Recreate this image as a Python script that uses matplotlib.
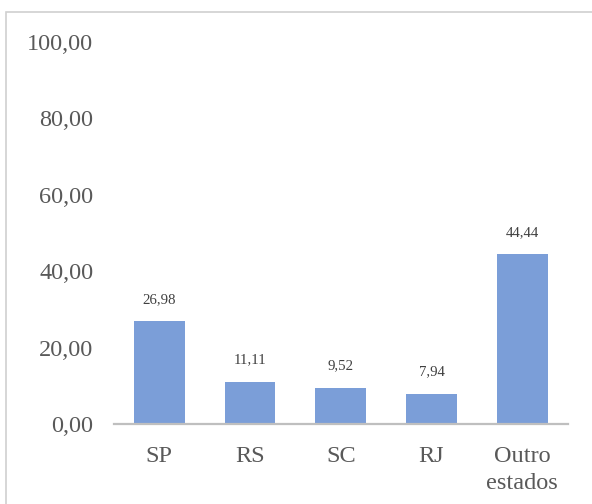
import matplotlib
matplotlib.use("Agg")
import matplotlib.pyplot as plt
from matplotlib.patches import Rectangle

categories = ["SP", "RS", "SC", "RJ", "Outro\nestados"]
values = [26.98, 11.11, 9.52, 7.94, 44.44]
value_labels = ["26,98", "11,11", "9,52", "7,94", "44,44"]
yticks = [0, 20, 40, 60, 80, 100]
ytick_labels = ["0,00", "20,00", "40,00", "60,00", "80,00", "100,00"]

plt.rcParams['font.family'] = ['Liberation Serif', 'DejaVu Serif']
text_color = "#595959"
bar_color = "#7B9ED8"

fig = plt.figure(figsize=(5.92, 5.04), dpi=100)
ax = fig.add_axes([114/592, 80/504, 453.5/592, 382/504])

x = list(range(len(categories)))
bars = ax.bar(x, values, width=0.56, color=bar_color, zorder=2)
for xi, v, lab in zip(x, values, value_labels):
    ax.annotate(lab, (xi, v), xytext=(0, 15), textcoords="offset pixels",
                ha="center", va="bottom", fontsize=10.7, color="#404040")

ax.set_xlim(-0.5, 4.5)
ax.set_ylim(0, 100)
ax.set_yticks(yticks)
ax.set_yticklabels(ytick_labels, fontsize=17.5, color=text_color)
ax.set_xticks(x)
ax.set_xticklabels(categories, fontsize=17.5, color=text_color, linespacing=1.4)
ax.tick_params(axis="y", length=0, pad=15)
ax.tick_params(axis="x", length=0, pad=15.5)
for s in ["top", "right", "left"]:
    ax.spines[s].set_visible(False)
ax.spines["bottom"].set_color("#BFBFBF")
ax.spines["bottom"].set_linewidth(1.6)
ax.spines["bottom"].set_zorder(3)

border = Rectangle((6/592, -0.1), 1.2, 1 - 12/504 + 0.1, transform=fig.transFigure,
                   fill=False, edgecolor="#D0D0D0", linewidth=1.2)
fig.patches.append(border)

fig.savefig("out.png", dpi=100)
